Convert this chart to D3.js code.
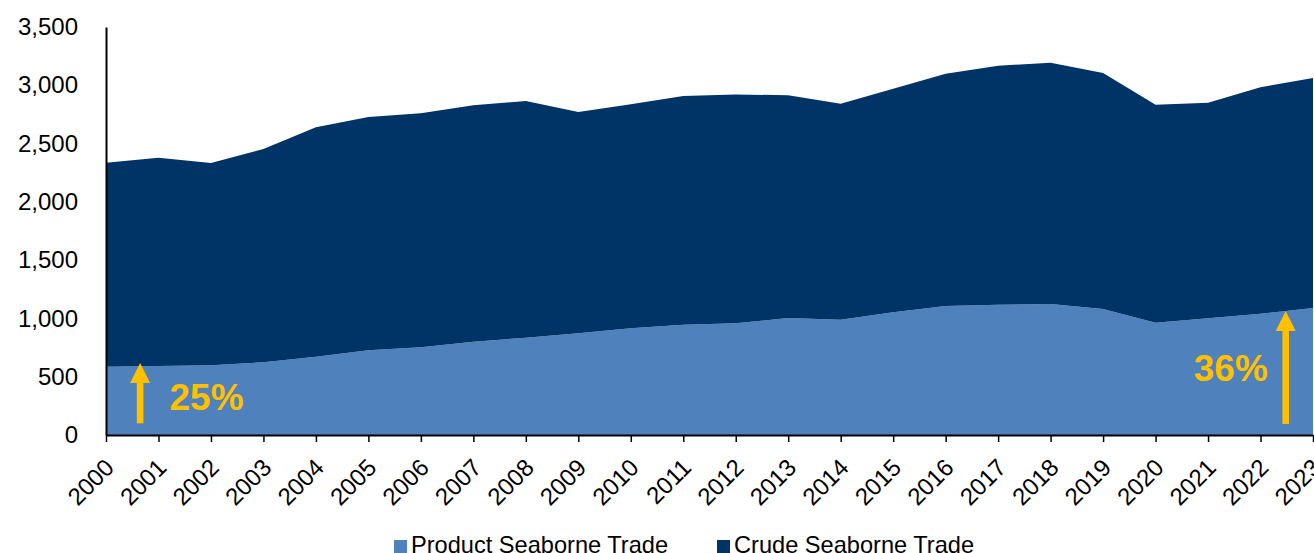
<!DOCTYPE html>
<html>
<head>
<meta charset="utf-8">
<script src="https://cdn.jsdelivr.net/npm/d3@7"></script>
<style>
  body { margin: 0; background: #fff; }
  svg { display: block; font-family: "Liberation Sans", Arial, sans-serif; }
</style>
</head>
<body>
<div id="chart"></div>
<script>
const years = d3.range(2000, 2024);
const product = [586, 592, 598, 624, 672, 727, 752, 800, 835, 872, 915, 946,
  958, 1004, 989, 1053, 1107, 1118, 1124, 1081, 963, 1001, 1041, 1089];
const crude = [1750, 1787, 1735, 1829, 1967, 2001, 2008, 2028, 2030, 1899, 1922, 1962,
  1964, 1910, 1853, 1918, 1992, 2050, 2070, 2024, 1870, 1850, 1942, 1973];
const yTicks = [0, 500, 1000, 1500, 2000, 2500, 3000, 3500];
const seriesNames = ["Product Seaborne Trade", "Crude Seaborne Trade"];
const colors = ["#4f81bd", "#003466"];

const width = 1314;
const height = 553;
const margin = { top: 27, right: 1, bottom: 118, left: 106 };

const data = years.map((y, i) => ({ year: y, product: product[i], crude: crude[i] }));
const stack = d3.stack().keys(["product", "crude"])(data);

const svg = d3
  .select("#chart")
  .append("svg")
  .attr("width", width)
  .attr("height", height);

const x = d3
  .scaleLinear()
  .domain([2000, 2023])
  .range([margin.left, width - margin.right]);

const y = d3
  .scaleLinear()
  .domain([0, 3500])
  .range([height - margin.bottom, margin.top]);

// areas
const area = d3
  .area()
  .x((d) => x(d.data.year))
  .y0((d) => y(d[0]))
  .y1((d) => y(d[1]));

svg
  .selectAll("path.area")
  .data(stack)
  .enter()
  .append("path")
  .attr("class", "area")
  .attr("d", area)
  .attr("fill", (d, i) => colors[i]);

// y axis
const yAxis = svg
  .append("g")
  .attr("transform", `translate(${margin.left}, 0)`)
  .call(d3.axisLeft(y).tickValues(yTicks).tickSize(0).tickPadding(28).tickFormat(d3.format(",")));
yAxis.select(".domain").attr("stroke", "#000").attr("stroke-width", 2);
yAxis.selectAll("text").attr("font-size", 24).attr("fill", "#000").attr("font-family", "Liberation Sans, Arial, sans-serif");

// x axis
const xAxis = svg
  .append("g")
  .attr("transform", `translate(0, ${height - margin.bottom})`)
  .call(d3.axisBottom(x).tickValues(years).tickSize(7).tickSizeOuter(0).tickFormat(d3.format("d")));
xAxis.select(".domain").attr("stroke", "#000").attr("stroke-width", 2);
xAxis.selectAll(".tick line").attr("stroke", "#000").attr("stroke-width", 1.5);
xAxis
  .selectAll("text")
  .attr("font-size", 24)
  .attr("fill", "#000")
  .attr("font-family", "Liberation Sans, Arial, sans-serif")
  .attr("text-anchor", "end")
  .attr("dy", null)
  .attr("y", 0)
  .attr("transform", "translate(9, 34) rotate(-45)");

// annotations
const gold = "#ffc000";
function arrow(xv, v0, v1) {
  const cx = x(xv);
  const yTop = y(v1);
  const yBot = y(v0);
  svg.append("rect")
    .attr("x", cx - 3.3).attr("y", yTop + 18)
    .attr("width", 6.6).attr("height", yBot - yTop - 18)
    .attr("fill", gold);
  svg.append("path")
    .attr("d", `M${cx - 10},${yTop + 20} L${cx},${yTop} L${cx + 10},${yTop + 20} Z`)
    .attr("fill", gold);
}
arrow(2000.65, 100, 617);
arrow(2022.48, 95, 1063);

svg.append("text")
  .attr("x", x(2001.21)).attr("y", y(214))
  .attr("font-size", 37).attr("font-weight", "bold").attr("fill", gold)
  .text("25%");
svg.append("text")
  .attr("x", x(2022.14)).attr("y", y(463))
  .attr("text-anchor", "end")
  .attr("font-size", 37).attr("font-weight", "bold").attr("fill", gold)
  .text("36%");

// legend
const legendX = [394, 717];
const legend = svg
  .selectAll("g.legend")
  .data(seriesNames)
  .enter()
  .append("g")
  .attr("class", "legend")
  .attr("transform", (d, i) => `translate(${legendX[i]}, 540)`);
legend.append("rect").attr("width", 13).attr("height", 13).attr("fill", (d, i) => colors[i]);
legend
  .append("text")
  .attr("x", 17)
  .attr("y", 13)
  .attr("font-size", 23.6)
  .attr("fill", "#000")
  .text((d) => d);
</script>
</body>
</html>
